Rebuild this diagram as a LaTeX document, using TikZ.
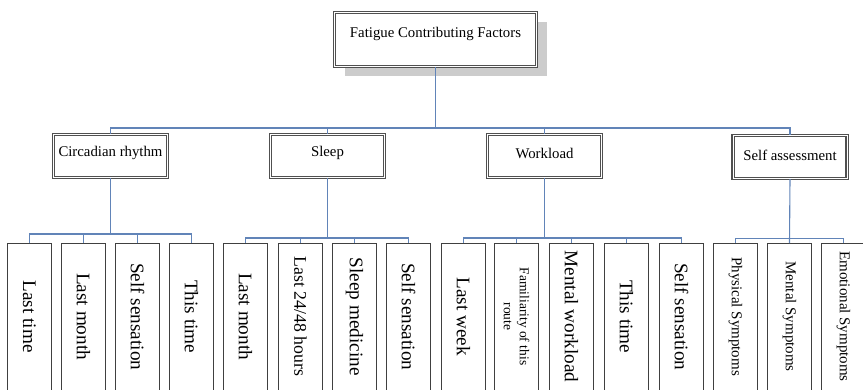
\documentclass[tikz,border=0pt]{standalone}
\usepackage{fontspec}
\setmainfont{Liberation Serif}
\usetikzlibrary{shadows}
\definecolor{conncol}{HTML}{6184B8}
\definecolor{boxline}{HTML}{404040}
\definecolor{dblline}{HTML}{505050}
\begin{document}
\begin{tikzpicture}[x=1pt,y=-1pt,
  conn/.style={draw=conncol, line width=1.1pt},
  topbox/.style={draw=dblline, line width=1.4pt, double=white, double distance=1pt,
    fill=white, minimum width=202pt, minimum height=54pt, inner sep=0pt,
    font=\fontsize{14.8}{17}\selectfont,
    drop shadow={shadow xshift=10pt, shadow yshift=-9pt, fill=gray!40, opacity=1}},
  midbox/.style={draw=dblline, line width=1.1pt, double=white, double distance=0.9pt,
    fill=white, minimum width=114pt, minimum height=43pt, inner sep=0pt,
    font=\fontsize{14.8}{17}\selectfont},
  leaf/.style={draw=boxline, line width=1.2pt, fill=white, rotate=-90, anchor=west,
    minimum width=152pt, minimum height=43.5pt, inner sep=0pt, align=center,
    font=\fontsize{19.2}{22}\selectfont},
  small/.style={font=\fontsize{15}{17}\selectfont},
  tiny/.style={font=\fontsize{13.5}{16}\selectfont}
]
\useasboundingbox (0,0) rectangle (863,389);

% top
\node[topbox] (top) at (435.5,39.5) {\raisebox{6pt}[\height][\depth]{Fatigue Contributing Factors}};

% level 2
\node[midbox] (circ) at (110.5,156) {\raisebox{3pt}[\height][\depth]{Circadian rhythm}};
\node[midbox] (sleep) at (327.5,156) {\raisebox{3pt}[\height][\depth]{Sleep}};
\node[midbox] (work) at (544.5,156) {\raisebox{3pt}[\height][\depth]{Workload}};
\node[midbox] (self) at (790,157) {\raisebox{2pt}[\height][\depth]{Self assessment}};

% level 3
\newcommand{\sh}{\hspace*{-6pt}}
\node[leaf] (c1) at (29.5,243) {\sh Last time};
\node[leaf] (c2) at (83.5,243) {\sh Last month};
\node[leaf] (c3) at (137.5,243) {\sh Self sensation};
\node[leaf] (c4) at (191.5,243) {\sh This time};
\node[leaf] (s1) at (245.5,243) {\sh Last month};
\node[leaf, font=\fontsize{17.8}{21}\selectfont] (s2) at (300.5,243) {\sh Last 24/48 hours};
\node[leaf] (s3) at (354.5,243) {\sh Sleep medicine};
\node[leaf] (s4) at (408.5,243) {\sh Self sensation};
\node[leaf] (w1) at (463.5,243) {\sh Last week};
\node[leaf, tiny] (w2) at (516.5,243) {\sh Familiarity of this\\\sh route};
\node[leaf] (w3) at (571.5,243) {\sh Mental workload};
\node[leaf] (w4) at (626.5,243) {\sh This time};
\node[leaf] (w5) at (681.5,243) {\sh Self sensation};
\node[leaf, small] (a1) at (735.5,243) {\sh Physical Symptoms};
\node[leaf, small] (a2) at (789.5,243) {\sh Mental Symptoms};
\node[leaf, small] (a3) at (843.5,243) {\sh Emotional Symptoms};

% connectors level 1 -> 2
\coordinate (bus0) at (435.5,128);
\draw[conn] (top.south) -- (bus0);
\foreach \n in {circ,sleep,work,self} \draw[conn] (\n.north) |- (bus0);

% connectors level 2 -> 3
\coordinate (busc) at (110.5,234);
\draw[conn] (circ.south) -- (busc);
\foreach \n in {c1,c2,c3,c4} \draw[conn] (\n.west) |- (busc);

\coordinate (buss) at (327.5,238);
\draw[conn] (sleep.south) -- (buss);
\foreach \n in {s1,s2,s3,s4} \draw[conn] (\n.west) |- (buss);

\coordinate (busw) at (544.5,238);
\draw[conn] (work.south) -- (busw);
\foreach \n in {w1,w2,w3,w4,w5} \draw[conn] (\n.west) |- (busw);

\coordinate (busa) at (790,238.5);
\draw[conn] (self.south) -- (a2.west);
\foreach \n in {a1,a3} \draw[conn] (\n.west) |- (busa);
\end{tikzpicture}
\end{document}
